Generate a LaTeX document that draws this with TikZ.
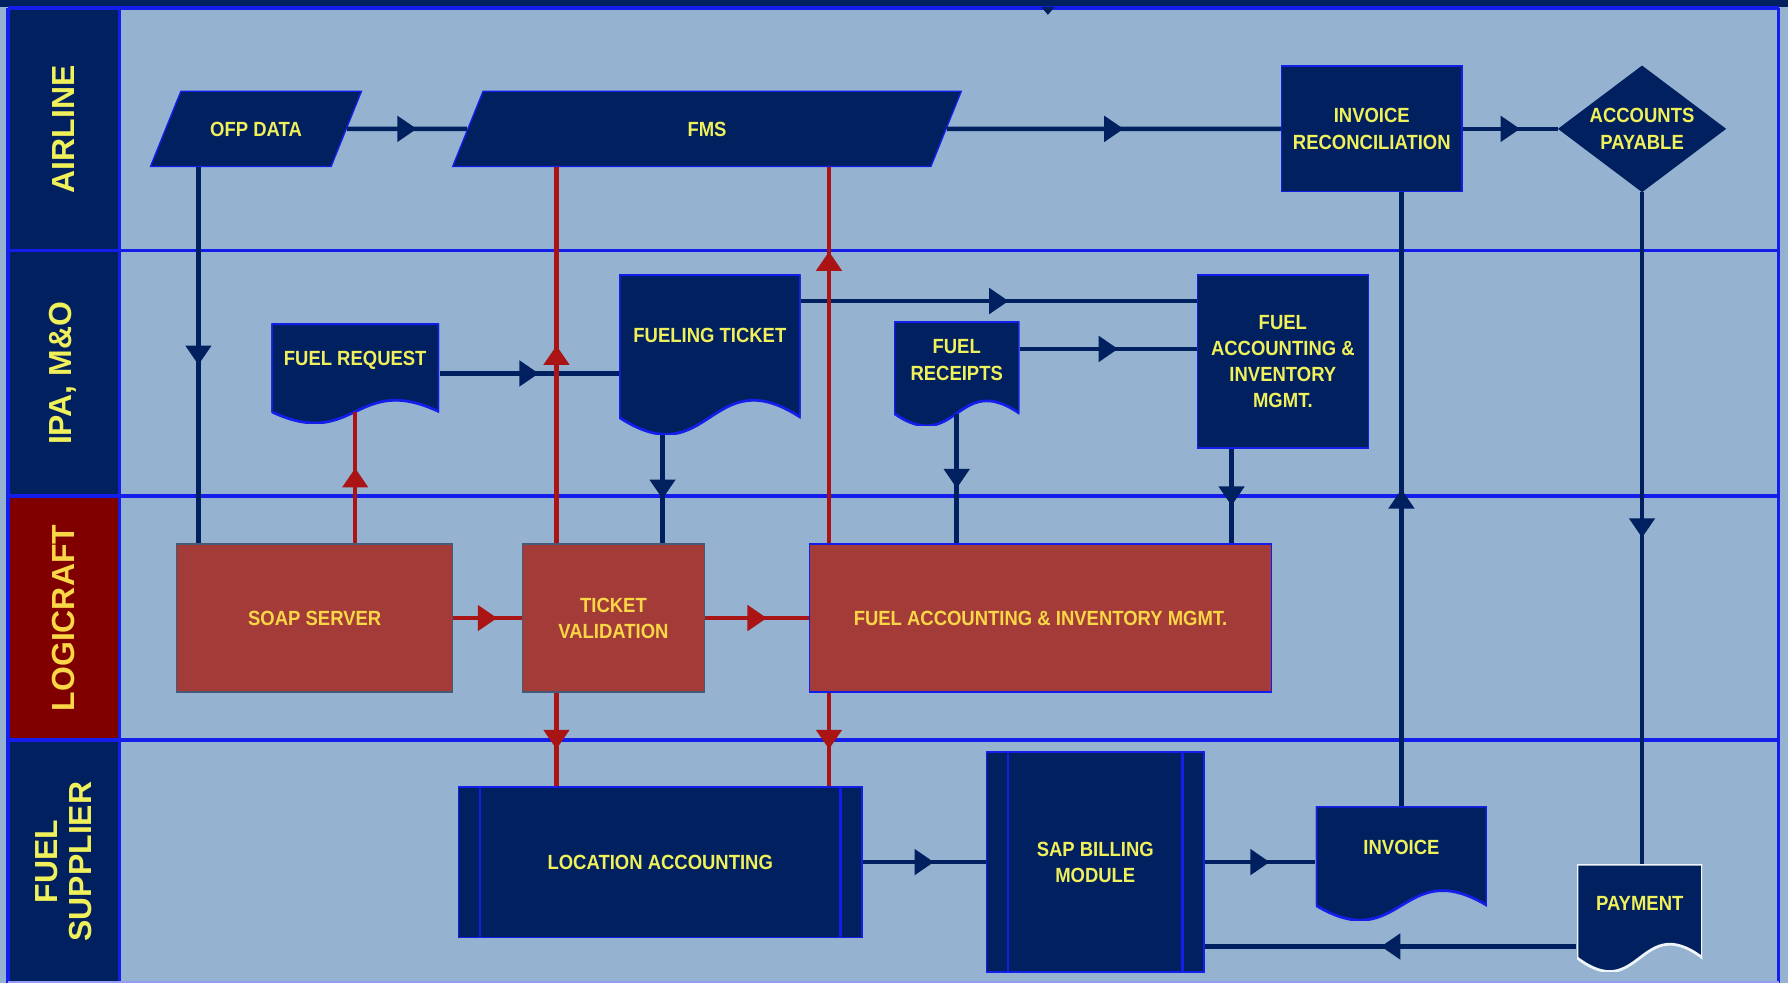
\documentclass[tikz,border=0pt]{standalone}
\usepackage{fontspec}
\setmainfont{Liberation Sans}
\newfontfamily\narrowsf{Liberation Sans}[FakeStretch=0.9]
\usetikzlibrary{calc, arrows.meta, shapes.geometric, decorations.markings}

\definecolor{lanebg}{RGB}{149,179,208}
\definecolor{navy}{RGB}{0,32,96}
\definecolor{edgeblue}{RGB}{20,30,235}
\definecolor{boxred}{RGB}{163,59,56}
\definecolor{lcred}{RGB}{128,0,0}
\definecolor{flowred}{RGB}{170,20,20}
\definecolor{txtyellow}{RGB}{240,240,90}
\definecolor{redtxt}{RGB}{250,215,70}
\definecolor{slate}{RGB}{70,90,120}

% text of a document shape sits high, above the wavy edge
\newcommand{\doctext}[2]{\raisebox{#1}[\height][\depth]{\begin{tabular}{@{}c@{}}#2\end{tabular}}}

\tikzset{
  box/.style={rectangle, fill=navy, draw=edgeblue, line width=1.2pt, text=txtyellow,
    font=\narrowsf\bfseries\fontsize{18}{23}\selectfont, align=center, inner sep=0pt},
  redbox/.style={box, fill=boxred, draw=slate, text=redtxt},
  dataio/.style={box, trapezium, trapezium left angle=68, trapezium right angle=112,
    trapezium stretches body, text height=13pt, text depth=0pt, inner ysep=26.5pt},
  decide/.style={box, diamond, aspect=1.33, draw=navy},
  docbox/.style 2 args={box, fill=none, draw=none, path picture={
      \fill[navy, draw=#2, line width=2.4pt]
        (path picture bounding box.north west)
        -- ([yshift=#1]path picture bounding box.south west)
        .. controls ([yshift=-2.46*#1]path picture bounding box.south)
        and ([yshift=4.46*#1]path picture bounding box.south)
        .. ([yshift=#1]path picture bounding box.south east)
        -- (path picture bounding box.north east) -- cycle;}},
  predef/.style={box, path picture={
      \draw[edgeblue, line width=2.2pt] ([xshift=19pt]path picture bounding box.north west)
        -- ([xshift=19pt]path picture bounding box.south west);
      \draw[edgeblue, line width=2.2pt] ([xshift=-19pt]path picture bounding box.north east)
        -- ([xshift=-19pt]path picture bounding box.south east);}},
  lanehead/.style={rotate=90, text=txtyellow, font=\bfseries\fontsize{28}{30}\selectfont,
    align=center, inner sep=0pt, minimum height=97pt},
  lanesep/.style={edgeblue, line width=2.8pt},
  flow/.style={navy, line width=4pt},
  redflow/.style={flowred, line width=4pt},
  midarrow/.style={postaction={decorate}, decoration={markings,
      mark=at position #1 with {\arrow[xshift=8.5pt]{Triangle[length=17pt,width=22pt]}}}},
  midarrow/.default=0.5
}

\begin{document}
\begin{tikzpicture}[x=1pt, y=-1pt]
  \useasboundingbox (0,0) rectangle (1568,862);
  \fill[lanebg] (0,0) rectangle (1568,862);
  \fill[navy] (0,0) rectangle (1568,6);

  % swim lanes
  \node[lanehead, fill=navy, minimum width=213pt] (hdair) at (55.5,113.5) {AIRLINE};
  \node[lanehead, fill=navy, minimum width=215pt] (hdipa) at (55.5,327.5) {IPA, M\&O};
  \node[lanehead, fill=lcred, text=redtxt, minimum width=214pt] (hdlog) at (55.5,542) {LOGICRAFT};
  \node[lanehead, fill=navy, minimum width=213pt] (hdsup) at (55.5,755.5) {FUEL\\SUPPLIER};
  \foreach \y in {7,220,435,649}
    \draw[lanesep] (7,\y) -- (1560,\y);
  \draw[lanesep] (7,7) -- (7,862);
  \draw[lanesep] (104.5,7) -- (104.5,862);
  \draw[lanesep] (1560,7) -- (1560,862);
  \draw[edgeblue!45!white, line width=1.5pt] (7,861) -- (1560,861);
  \fill[navy] (913,6) -- (925,6) -- (919,13) -- cycle;

  % airline
  \node[dataio, minimum width=185pt, minimum height=66pt] (ofp) at (224.5,113) {OFP DATA};
  \node[dataio, minimum width=446pt, minimum height=66pt] (fms) at (620,113) {FMS};
  \node[box, minimum width=158pt, minimum height=110pt] (invrec) at (1203,113) {INVOICE\\RECONCILIATION};
  \node[decide, minimum width=146pt, minimum height=110pt] (payable) at (1440,113) {ACCOUNTS\\PAYABLE};

  % ipa, m&o
  \node[docbox={10pt}{edgeblue}, minimum width=147pt, minimum height=87pt] (fuelreq) at (311.5,327.5) {\doctext{11.5pt}{FUEL REQUEST}};
  \node[docbox={15pt}{edgeblue}, minimum width=159pt, minimum height=140pt] (fticket) at (622.5,311) {\doctext{15pt}{FUELING TICKET}};
  \node[docbox={11pt}{edgeblue}, minimum width=110pt, minimum height=91.5pt] (freceipt) at (839,327.75) {\doctext{10.5pt}{FUEL\\RECEIPTS}};
  \node[box, minimum width=150pt, minimum height=152pt] (faiipa) at (1125,317) {FUEL\\ACCOUNTING \&\\INVENTORY\\MGMT.};

  % logicraft
  \node[redbox, minimum width=242pt, minimum height=130pt] (soap) at (276,542) {SOAP SERVER};
  \node[redbox, minimum width=160pt, minimum height=130pt] (tval) at (538,542) {TICKET\\VALIDATION};
  \node[redbox, draw=edgeblue, minimum width=405pt, minimum height=130pt] (falog) at (912.5,542) {FUEL ACCOUNTING \& INVENTORY MGMT.};

  % fuel supplier
  \node[predef, minimum width=354pt, minimum height=132pt] (locacc) at (579,756) {LOCATION ACCOUNTING};
  \node[predef, minimum width=191pt, minimum height=193pt] (sap) at (960.5,756) {SAP BILLING\\MODULE};
  \node[docbox={13pt}{edgeblue}, minimum width=150pt, minimum height=100pt] (invoice) at (1229,757) {\doctext{12.5pt}{INVOICE}};
  \node[docbox={12pt}{white!85!lanebg}, minimum width=110pt, minimum height=94pt] (payment) at (1438,805) {\doctext{11pt}{PAYMENT}};

  % navy flows
  \draw[flow, midarrow] (ofp) -- (fms);
  \draw[flow, midarrow] (fms) -- (invrec);
  \draw[flow, midarrow] (invrec) -- (payable);
  \draw[flow, midarrow] ($(ofp.south)+(-50.5,0)$) coordinate (ofpout) -- (ofpout |- soap.north);
  \draw[flow, midarrow] (fuelreq.east) -- (fuelreq.east -| fticket.west);
  \draw[flow, midarrow] ($(fticket.east)+(0,-47)$) coordinate (ftout) -- (ftout -| faiipa.west);
  \draw[flow, midarrow] ($(freceipt.east)+(0,-21.75)$) coordinate (rcout) -- (rcout -| faiipa.west);
  \draw[flow, midarrow] ($(fticket.south)+(-41.5,0)$) coordinate (ftdown) -- (ftdown |- tval.north);
  \draw[flow, midarrow] ($(freceipt.south)+(0,-11)$) coordinate (rcdown) -- (rcdown |- falog.north);
  \draw[flow, midarrow] ($(faiipa.south)+(-45,0)$) coordinate (faidown) -- (faidown |- falog.north);
  \draw[flow, midarrow] (invoice.north) -- (invoice.north |- invrec.south);
  \draw[flow, midarrow] (payable.south) -- (payable.south |- payment.north);
  \draw[flow, midarrow] (locacc) -- (sap);
  \draw[flow, midarrow] (sap.east) -- (sap.east -| invoice.west);
  \draw[flow, midarrow] ($(payment.west)+(0,25)$) coordinate (payout) -- (payout -| sap.east);

  % red flows
  \draw[redflow, midarrow] (fuelreq.south |- soap.north) -- ($(fuelreq.south)+(0,-10)$);
  \draw[redflow, midarrow] (soap) -- (tval);
  \draw[redflow, midarrow] (tval) -- (falog);
  \draw[redflow, midarrow] ($(tval.north)+(-50,0)$) coordinate (tvup) -- (tvup |- fms.south);
  \draw[redflow, midarrow] ($(tval.south)+(-50,0)$) coordinate (tvdown) -- (tvdown |- locacc.north);
  \draw[redflow, midarrow=0.75] ($(falog.north)+(-185.5,0)$) coordinate (faup) -- (faup |- fms.south);
  \draw[redflow, midarrow] ($(falog.south)+(-185.5,0)$) coordinate (fadown) -- (fadown |- locacc.north);
\end{tikzpicture}
\end{document}
